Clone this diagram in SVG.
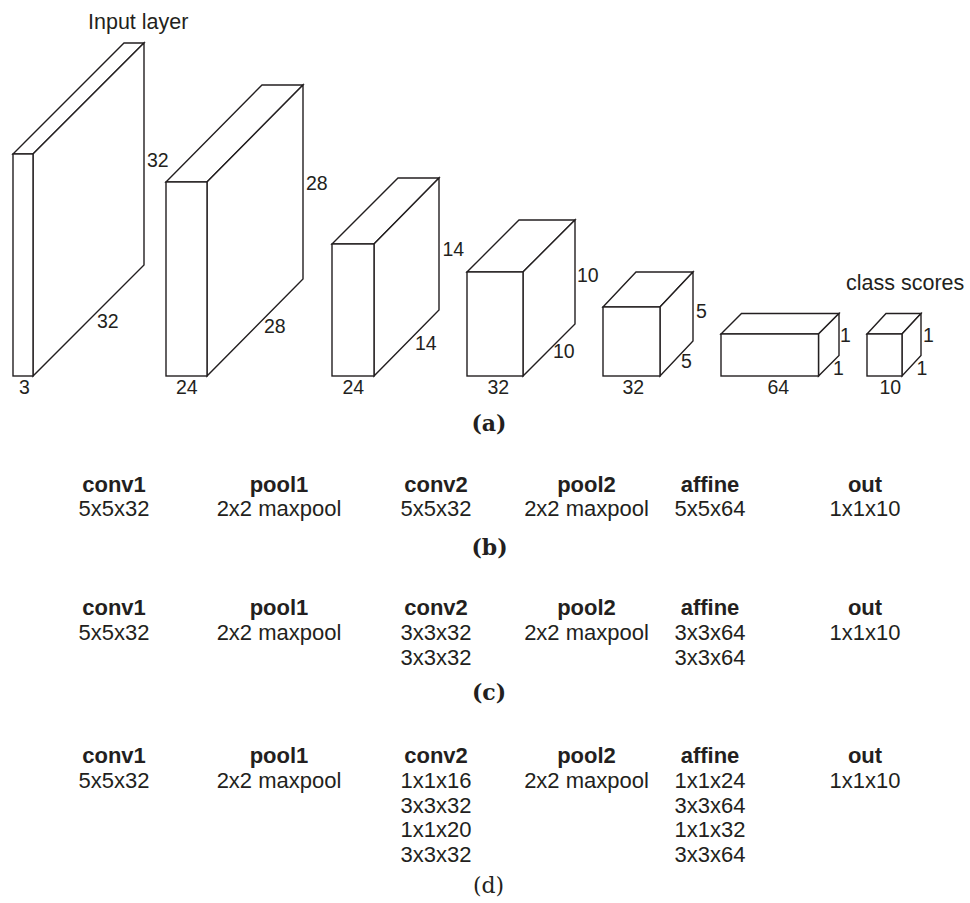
<svg xmlns="http://www.w3.org/2000/svg" width="970" height="903" viewBox="0 0 970 903">
<style>
.box{fill:#fff;stroke:#231f20;stroke-width:1.4;stroke-linejoin:miter}
.lbl{font-family:"Liberation Sans",Arial,sans-serif;font-size:19.5px;fill:#231f20}
.top{font-family:"Liberation Sans",Arial,sans-serif;font-size:21.5px;fill:#231f20}
.t{font-family:"Liberation Sans",Arial,sans-serif;font-size:22px;fill:#231f20;text-anchor:middle}
.h{font-weight:bold}
.cap{font-family:"DejaVu Serif","Liberation Serif",serif;font-size:22px;fill:#231f20;text-anchor:middle;font-weight:bold}
</style>
<rect width="970" height="903" fill="#fff"/>

<g id="input-layer">
<text class="top" x="88" y="29">Input layer</text>
<polygon class="box" points="13,154 124,43 144,43 33,154"/>
<polygon class="box" points="33,154 144,43 144,265 33,376"/>
<rect class="box" x="13" y="154" width="20" height="222"/>
<text class="lbl" x="147" y="167">32</text>
<text class="lbl" x="97" y="328">32</text>
<text class="lbl" x="19" y="394">3</text>
</g>

<g id="conv1-vol">
<polygon class="box" points="166,182 262,85 303,85 207,182"/>
<polygon class="box" points="207,182 303,85 303,279 207,376"/>
<rect class="box" x="166" y="182" width="41" height="194"/>
<text class="lbl" x="306" y="190">28</text>
<text class="lbl" x="264" y="332.5">28</text>
<text class="lbl" x="176" y="394">24</text>
</g>

<g id="pool1-vol">
<polygon class="box" points="332,244 398,178 439,178 374,244"/>
<polygon class="box" points="374,244 439,178 439,310 374,376"/>
<rect class="box" x="332" y="244" width="42" height="132"/>
<text class="lbl" x="442.5" y="256">14</text>
<text class="lbl" x="415" y="350">14</text>
<text class="lbl" x="342.5" y="393.5">24</text>
</g>

<g id="conv2-vol">
<polygon class="box" points="467,272 519,220 575,220 523,272"/>
<polygon class="box" points="523,272 575,220 575,324 523,376"/>
<rect class="box" x="467" y="272" width="56" height="104"/>
<text class="lbl" x="577" y="281.5">10</text>
<text class="lbl" x="553" y="358">10</text>
<text class="lbl" x="487.5" y="393.5">32</text>
</g>

<g id="pool2-vol">
<polygon class="box" points="603,307 636,272 693,272 660,307"/>
<polygon class="box" points="660,307 693,272 693,341 660,376"/>
<rect class="box" x="603" y="307" width="57" height="69"/>
<text class="lbl" x="696" y="317.5">5</text>
<text class="lbl" x="681" y="367.5">5</text>
<text class="lbl" x="622.5" y="393.5">32</text>
</g>

<g id="affine-vol">
<polygon class="box" points="721,334 741.5,313.5 839,313.5 818.5,334"/>
<polygon class="box" points="818.5,334 839,313.5 839,355.5 818.5,376"/>
<rect class="box" x="721" y="334" width="97.5" height="42"/>
<text class="lbl" x="840" y="341.5">1</text>
<text class="lbl" x="833" y="375">1</text>
<text class="lbl" x="767.5" y="393.5">64</text>
</g>

<g id="out-vol">
<text class="top" x="846" y="290">class scores</text>
<polygon class="box" points="867,334 886,313.5 921,313.5 902,334"/>
<polygon class="box" points="902,334 921,313.5 921,355.5 902,376"/>
<rect class="box" x="867" y="334" width="35" height="42"/>
<text class="lbl" x="923" y="341.5">1</text>
<text class="lbl" x="916.5" y="375">1</text>
<text class="lbl" x="879.5" y="393.5">10</text>
</g>

<g id="connectors"></g>

<g id="caption-a"><text class="cap" x="489" y="431">(a)</text></g>

<g id="table-b">
<text class="t h" x="114" y="491.5">conv1</text>
<text class="t" x="114" y="516">5x5x32</text>
<text class="t h" x="279" y="491.5">pool1</text>
<text class="t" x="279" y="516">2x2 maxpool</text>
<text class="t h" x="436" y="491.5">conv2</text>
<text class="t" x="436" y="516">5x5x32</text>
<text class="t h" x="586.5" y="491.5">pool2</text>
<text class="t" x="586.5" y="516">2x2 maxpool</text>
<text class="t h" x="710" y="491.5">affine</text>
<text class="t" x="710" y="516">5x5x64</text>
<text class="t h" x="865" y="491.5">out</text>
<text class="t" x="865" y="516">1x1x10</text>
</g>
<g id="caption-b"><text class="cap" x="489.5" y="555">(b)</text></g>

<g id="table-c">
<text class="t h" x="114" y="615">conv1</text>
<text class="t" x="114" y="640">5x5x32</text>
<text class="t h" x="279" y="615">pool1</text>
<text class="t" x="279" y="640">2x2 maxpool</text>
<text class="t h" x="436" y="615">conv2</text>
<text class="t" x="436" y="640">3x3x32</text>
<text class="t" x="436" y="665">3x3x32</text>
<text class="t h" x="586.5" y="615">pool2</text>
<text class="t" x="586.5" y="640">2x2 maxpool</text>
<text class="t h" x="710" y="615">affine</text>
<text class="t" x="710" y="640">3x3x64</text>
<text class="t" x="710" y="665">3x3x64</text>
<text class="t h" x="865" y="615">out</text>
<text class="t" x="865" y="640">1x1x10</text>
</g>
<g id="caption-c"><text class="cap" x="489" y="700">(c)</text></g>

<g id="table-d">
<text class="t h" x="114" y="763.3">conv1</text>
<text class="t" x="114" y="788.3">5x5x32</text>
<text class="t h" x="279" y="763.3">pool1</text>
<text class="t" x="279" y="788.3">2x2 maxpool</text>
<text class="t h" x="436" y="763.3">conv2</text>
<text class="t" x="436" y="788.3">1x1x16</text>
<text class="t" x="436" y="812.8">3x3x32</text>
<text class="t" x="436" y="837.3">1x1x20</text>
<text class="t" x="436" y="861.8">3x3x32</text>
<text class="t h" x="586.5" y="763.3">pool2</text>
<text class="t" x="586.5" y="788.3">2x2 maxpool</text>
<text class="t h" x="710" y="763.3">affine</text>
<text class="t" x="710" y="788.3">1x1x24</text>
<text class="t" x="710" y="812.8">3x3x64</text>
<text class="t" x="710" y="837.3">1x1x32</text>
<text class="t" x="710" y="861.8">3x3x64</text>
<text class="t h" x="865" y="763.3">out</text>
<text class="t" x="865" y="788.3">1x1x10</text>
</g>
<g id="caption-d"><text class="cap" x="488.5" y="893" style="font-weight:normal">(d)</text></g>
</svg>
